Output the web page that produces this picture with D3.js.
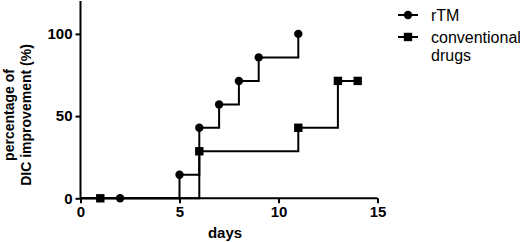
<!DOCTYPE html>
<html>
<head>
<meta charset="utf-8">
<script src="https://cdn.jsdelivr.net/npm/d3@7"></script>
<style>
  body { margin: 0; background: #fff; }
  text { font-family: "Liberation Sans", Arial, sans-serif; }
</style>
</head>
<body>
<div id="chart"></div>
<script>
// Data
const rtmDays = [0, 2, 5, 6, 7, 8, 9, 11];
const rtmValues = [0, 0, 14.3, 42.9, 57.1, 71.4, 85.7, 100];
const rtmMarked = [false, true, true, true, true, true, true, true];

const convDays = [0, 1, 6, 11, 13, 14];
const convValues = [0, 0, 28.6, 42.9, 71.4, 71.4];
const convMarked = [false, true, true, true, true, true];

const xTicks = [0, 5, 10, 15];
const yTicks = [0, 50, 100];
const legendLabels = [['rTM'], ['conventional', 'drugs']];

const width = 520, height = 242;
const svg = d3.select('#chart').append('svg')
    .attr('width', width)
    .attr('height', height);

const x = d3.scaleLinear().domain([0, 15]).range([80.5, 377.5]);
const y = d3.scaleLinear().domain([0, 120]).range([198.3, 1]);

const rtm = rtmDays.map((d, i) => ({ x: d, y: rtmValues[i], m: rtmMarked[i] }));
const conv = convDays.map((d, i) => ({ x: d, y: convValues[i], m: convMarked[i] }));

const line = d3.line()
    .x(d => x(d.x))
    .y(d => y(d.y))
    .curve(d3.curveStepAfter);

// axes
const xAxis = svg.append('g')
    .attr('transform', `translate(0,${y(0)})`)
    .call(d3.axisBottom(x).tickValues(xTicks).tickSize(5).tickPadding(3).tickFormat(d3.format('d')));
const yAxis = svg.append('g')
    .attr('transform', `translate(${x(0)},0)`)
    .call(d3.axisLeft(y).tickValues(yTicks).tickSize(5).tickPadding(3).tickFormat(d3.format('d')));

[xAxis, yAxis].forEach(a => {
    a.select('.domain').attr('stroke', '#000').attr('stroke-width', 2);
    a.selectAll('.tick line').attr('stroke', '#000').attr('stroke-width', 2);
    a.selectAll('.tick text')
        .style('font-family', '"Liberation Sans", Arial, sans-serif')
        .style('font-size', '15px')
        .style('font-weight', 'bold')
        .attr('fill', '#000');
});
xAxis.select('.domain').attr('d', `M${x(0)},0H${x(15)}`);
yAxis.select('.domain').attr('d', `M0,${y(0)}V${y(120)}`);

// axis titles
svg.append('text')
    .attr('x', 225)
    .attr('y', 238)
    .attr('text-anchor', 'middle')
    .style('font-size', '15px')
    .style('font-weight', 'bold')
    .text('days');

const yt = svg.append('text')
    .attr('transform', `translate(14,115) rotate(-90)`)
    .attr('text-anchor', 'middle')
    .style('font-size', '14px')
    .style('font-weight', 'bold');
yt.append('tspan').attr('x', 0).attr('dy', 0).text('percentage of');
yt.append('tspan').attr('x', 0).attr('dy', 17).text('DIC improvement (%)');

// series lines
[rtm, conv].forEach(series => {
    svg.append('path')
        .datum(series)
        .attr('d', line)
        .attr('fill', 'none')
        .attr('stroke', '#000')
        .attr('stroke-width', 2);
});

// markers
svg.selectAll('.rtm-pt')
    .data(rtm.filter(d => d.m))
    .enter().append('circle')
    .attr('cx', d => x(d.x))
    .attr('cy', d => y(d.y))
    .attr('r', 4.2)
    .attr('fill', '#000');

svg.selectAll('.conv-pt')
    .data(conv.filter(d => d.m))
    .enter().append('rect')
    .attr('x', d => x(d.x) - 4.2)
    .attr('y', d => y(d.y) - 4.2)
    .attr('width', 8.4)
    .attr('height', 8.4)
    .attr('fill', '#000');

// legend
const legend = svg.append('g');
legendLabels.forEach((lines, i) => {
    const ly = i === 0 ? 15 : 37;
    legend.append('line')
        .attr('x1', 398).attr('x2', 418)
        .attr('y1', ly).attr('y2', ly)
        .attr('stroke', '#000').attr('stroke-width', 2);
    if (i === 0) {
        legend.append('circle').attr('cx', 408).attr('cy', ly).attr('r', 4.2).attr('fill', '#000');
    } else {
        legend.append('rect').attr('x', 403.8).attr('y', ly - 4.2).attr('width', 8.4).attr('height', 8.4).attr('fill', '#000');
    }
    const t = legend.append('text')
        .attr('x', 431)
        .attr('y', ly + 5.5)
        .style('font-size', '16px');
    lines.forEach((s, j) => {
        t.append('tspan').attr('x', 431).attr('dy', j === 0 ? 0 : 18).text(s);
    });
});
</script>
</body>
</html>
